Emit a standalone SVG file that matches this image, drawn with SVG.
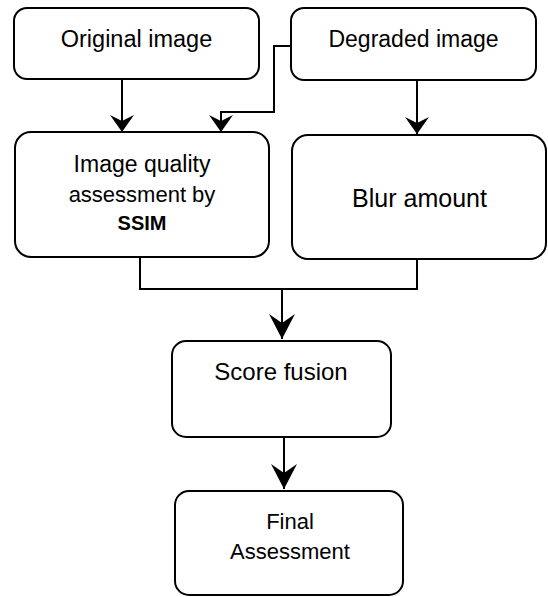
<svg xmlns="http://www.w3.org/2000/svg" width="548" height="597" viewBox="0 0 548 597">
  <style>
    .box { fill: #ffffff; stroke: #000000; stroke-width: 2; }
    .t { font-family: "Liberation Sans", Arial, sans-serif; fill: #000000; text-anchor: middle; }
    .conn { fill: none; stroke: #000000; stroke-width: 2; }
  </style>
  <defs>
    <marker id="arr" markerUnits="userSpaceOnUse" viewBox="-18 -14 18 28" refX="0" refY="0" markerWidth="18" markerHeight="28" orient="auto">
      <path d="M0,0 L-17,-12 L-11,0 L-17,12 Z" fill="#000000"/>
    </marker>
    <marker id="arrL" markerUnits="userSpaceOnUse" viewBox="-26 -14 26 28" refX="0" refY="0" markerWidth="26" markerHeight="28" orient="auto">
      <path d="M0,0 L-25,-13 L-16,0 L-25,13 Z" fill="#000000"/>
    </marker>
  </defs>
  <rect width="548" height="597" fill="#ffffff"/>

  <g id="original">
    <rect class="box" x="14" y="8" width="245" height="71" rx="13"/>
    <text class="t" x="136.5" y="47" font-size="23.5">Original image</text>
  </g>
  <g id="degraded">
    <rect class="box" x="291" y="8" width="245" height="72" rx="13"/>
    <text class="t" x="413.5" y="47" font-size="23">Degraded image</text>
  </g>
  <g id="iqa">
    <rect class="box" x="15" y="132" width="254" height="125" rx="16"/>
    <text class="t" x="142" y="172" font-size="23">Image quality</text>
    <text class="t" x="142" y="202" font-size="22">assessment by</text>
    <text class="t" x="142" y="230" font-size="20" font-weight="bold">SSIM</text>
  </g>
  <g id="blur">
    <rect class="box" x="292" y="135" width="254" height="124" rx="16"/>
    <text class="t" x="419.5" y="207" font-size="25">Blur amount</text>
  </g>
  <g id="fusion">
    <rect class="box" x="172" y="341" width="219" height="96" rx="14"/>
    <text class="t" x="281" y="380" font-size="24">Score fusion</text>
  </g>
  <g id="final">
    <rect class="box" x="175" y="491" width="228" height="104" rx="14"/>
    <text class="t" x="290" y="529" font-size="22">Final</text>
    <text class="t" x="290" y="559" font-size="22">Assessment</text>
  </g>

  <g id="connectors">
    <path class="conn" d="M122,79 V132" marker-end="url(#arr)"/>
    <path class="conn" d="M291,46 H274 V112 H221 V132" marker-end="url(#arr)"/>
    <path class="conn" d="M417,80 V134" stroke-width="1.6" marker-end="url(#arr)"/>
    <path class="conn" d="M140,257 V289 H417 V259"/>
    <path class="conn" d="M282,289 V339" marker-end="url(#arrL)"/>
    <path class="conn" d="M284,437 V489" marker-end="url(#arrL)"/>
  </g>
</svg>
